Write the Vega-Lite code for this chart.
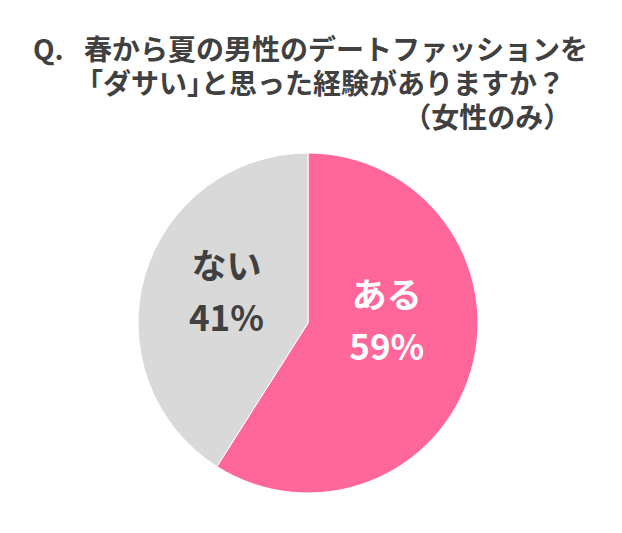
{
  "$schema": "https://vega.github.io/schema/vega-lite/v6.json",
  "width": 616,
  "height": 340,
  "autosize": {"type": "none"},
  "padding": {"top": 153, "left": 0, "right": 6, "bottom": 40},
  "background": "white",
  "view": {"stroke": null},
  "title": {
    "text": ["Q. \u2002春から夏の男性のデートファッションを", "\u200b\u3000\u3000｢ダサい｣と思った経験がありますか？", "\u200b\u3000\u3000\u3000\u3000\u3000\u3000\u3000\u3000\u3000\u3000\u3000\u3000\u3000 （女性のみ）"],
    "anchor": "start",
    "frame": "group",
    "font": "Noto Sans CJK JP",
    "fontSize": 28,
    "fontWeight": "bold",
    "color": "#404040",
    "lineHeight": 34,
    "dx": 33,
    "offset": 17
  },
  "data": {
    "values": [
      {"category": "ある", "value": 59, "order": 1},
      {"category": "ない", "value": 41, "order": 2}
    ]
  },
  "transform": [
    {"calculate": "datum.category + '\\n' + datum.value + '%'", "as": "label"}
  ],
  "encoding": {
    "theta": {"field": "value", "type": "quantitative", "stack": true},
    "order": {"field": "order", "type": "quantitative"}
  },
  "layer": [
    {
      "mark": {"type": "arc", "outerRadius": 170, "stroke": "white", "strokeWidth": 1},
      "encoding": {
        "color": {
          "field": "category",
          "type": "nominal",
          "scale": {"domain": ["ある", "ない"], "range": ["#FF6699", "#D9D9D9"]},
          "legend": null
        }
      }
    },
    {
      "mark": {"type": "text", "radius": 82, "dy": -49, "font": "Noto Sans CJK JP", "fontSize": 35, "fontWeight": "bold", "lineBreak": "\n", "lineHeight": 52, "fill": "white"},
      "encoding": {
        "text": {"condition": {"test": "datum.category === 'ある'", "field": "label"}, "value": ""}
      }
    },
    {
      "mark": {"type": "text", "radius": 85, "dy": -31, "font": "Noto Sans CJK JP", "fontSize": 35, "fontWeight": "bold", "lineBreak": "\n", "lineHeight": 52, "fill": "#404040"},
      "encoding": {
        "text": {"condition": {"test": "datum.category === 'ない'", "field": "label"}, "value": ""}
      }
    }
  ]
}
